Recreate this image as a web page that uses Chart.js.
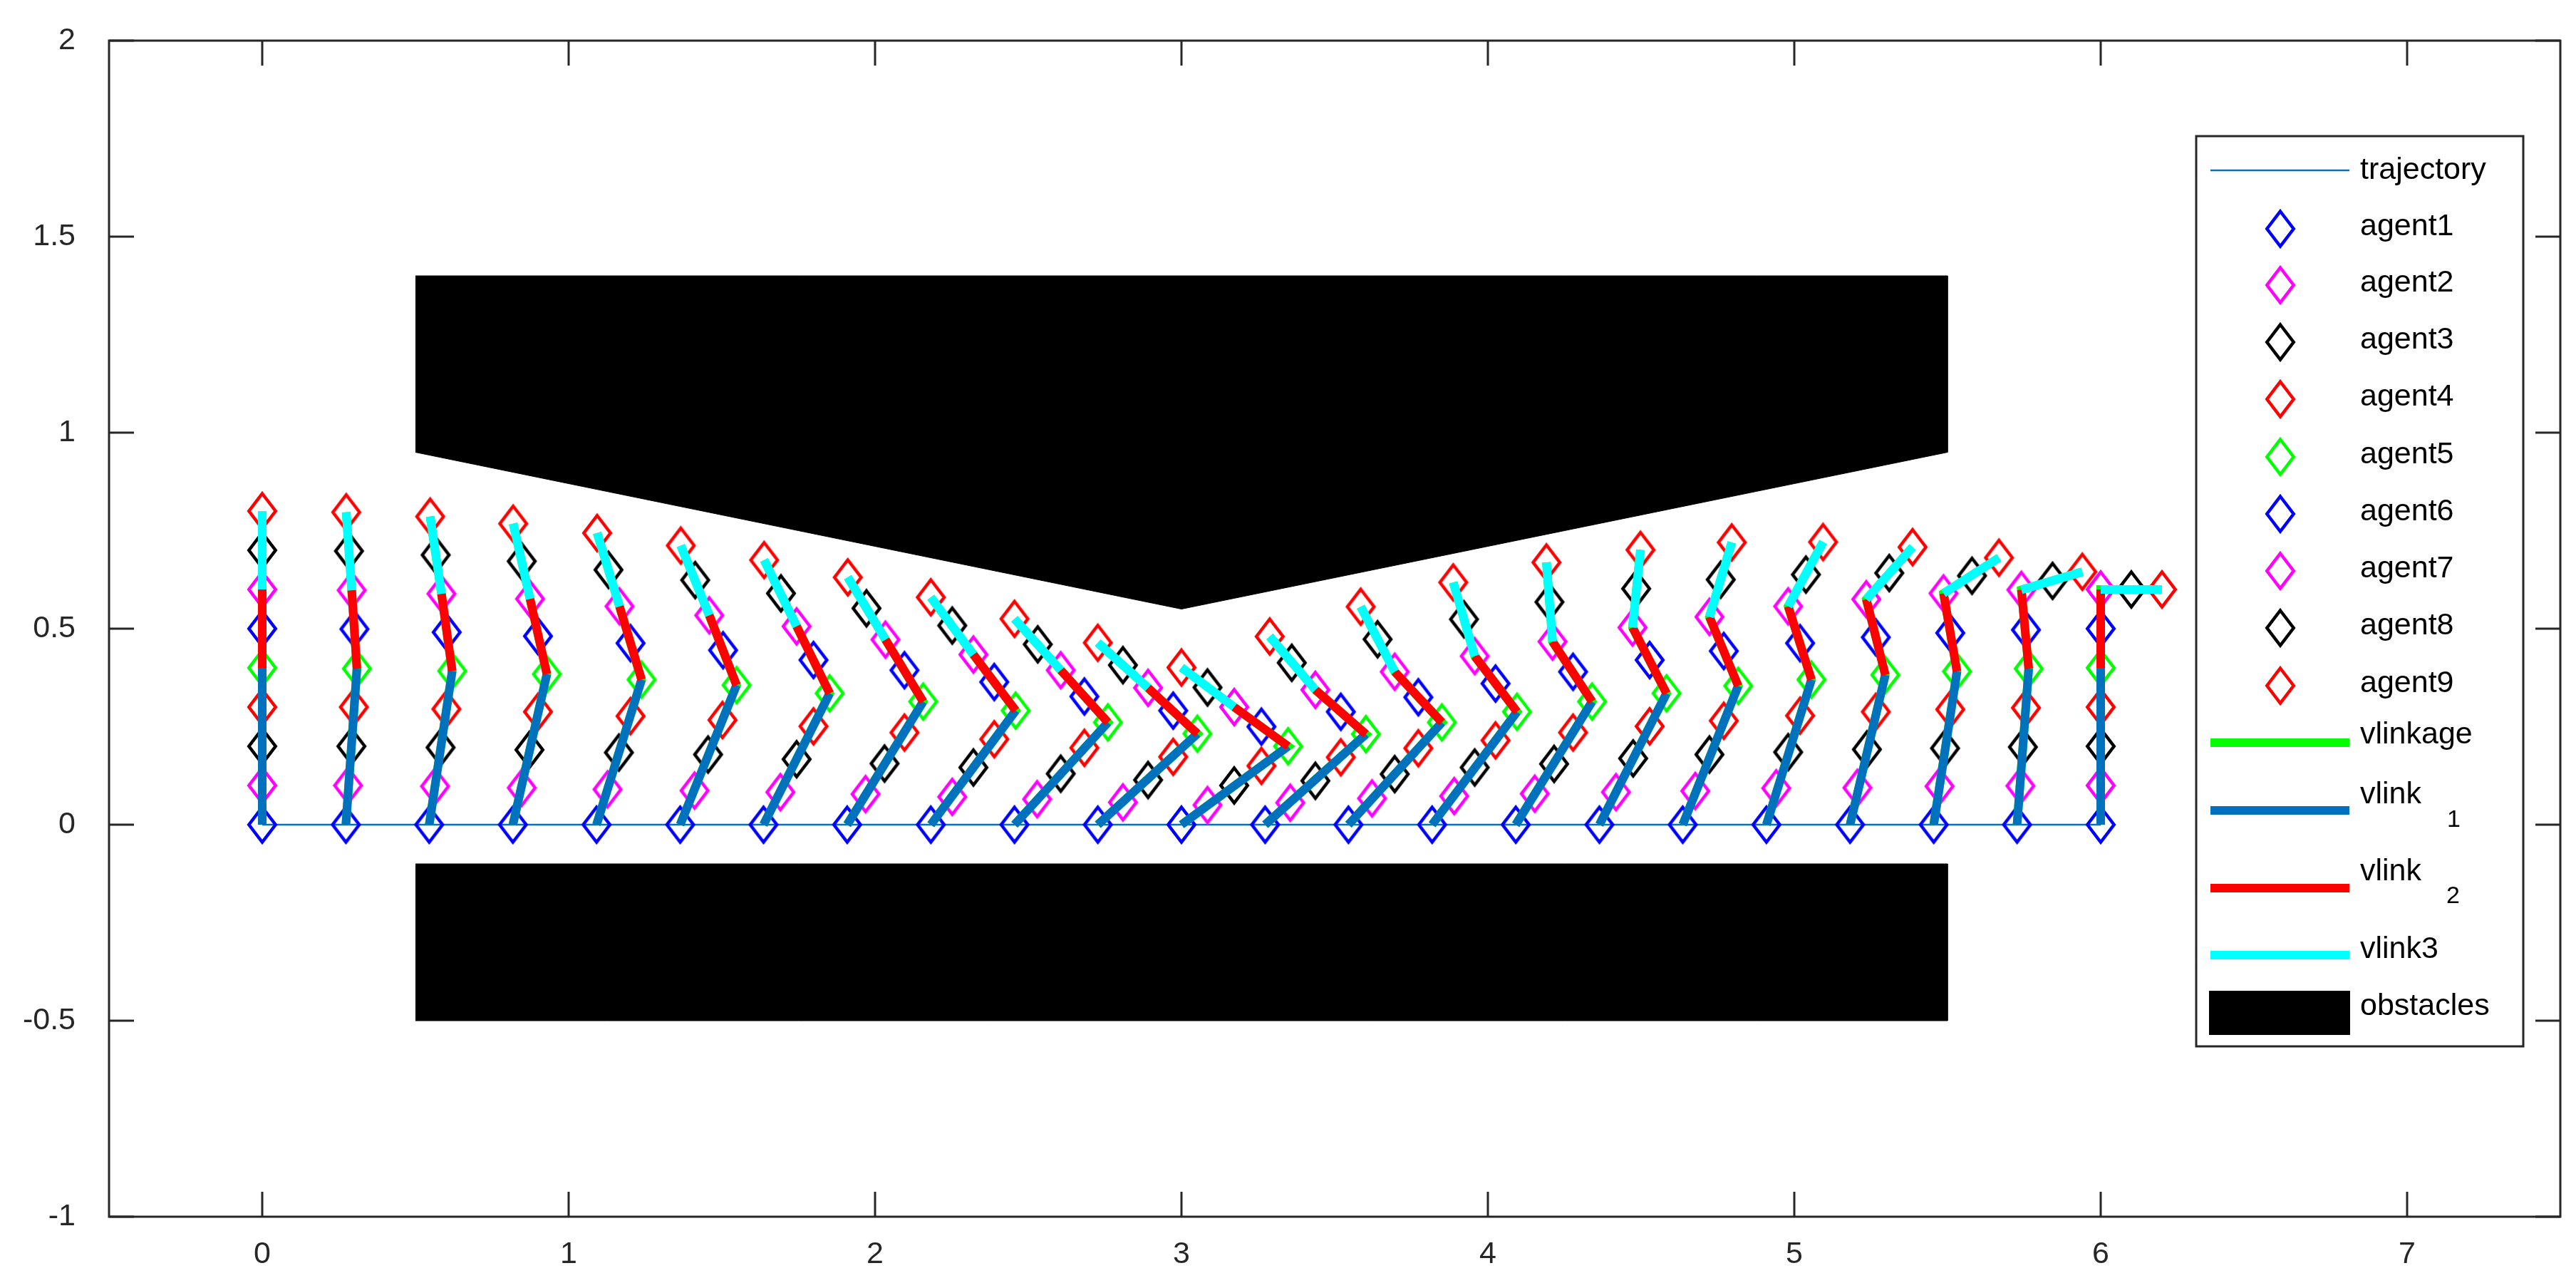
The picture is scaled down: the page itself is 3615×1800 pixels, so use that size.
<!DOCTYPE html>
<html>
<head>
<meta charset="utf-8">
<script src="https://cdn.jsdelivr.net/npm/chart.js@4.4.0/dist/chart.umd.min.js"></script>
<style>
  body { margin: 0; background: #fff; }
  #wrap { width: 3615px; height: 1800px; }
</style>
</head>
<body>
<div id="wrap"><canvas id="plot" width="3615" height="1800"></canvas></div>
<script>
// axis ticks
const xTicks = [0, 1, 2, 3, 4, 5, 6, 7];
const yTicks = [-1, -0.5, 0, 0.5, 1, 1.5, 2];

// agent positions, one value per snapshot (23 snapshots)
const agent1X = [0, 0.273, 0.545, 0.818, 1.091, 1.364, 1.636, 1.909, 2.182, 2.455, 2.727, 3.0, 3.273, 3.545, 3.818, 4.091, 4.364, 4.636, 4.909, 5.182, 5.455, 5.727, 6.0];
const agent1Y = [0, 0, 0, 0, 0, 0, 0, 0, 0, 0, 0, 0, 0, 0, 0, 0, 0, 0, 0, 0, 0, 0, 0];
const agent2X = [0, 0.280, 0.564, 0.847, 1.127, 1.411, 1.691, 1.969, 2.252, 2.529, 2.809, 3.085, 3.355, 3.622, 3.890, 4.153, 4.418, 4.677, 4.941, 5.206, 5.474, 5.738, 6.0];
const agent2Y = [0.1, 0.1, 0.098, 0.094, 0.09, 0.087, 0.083, 0.078, 0.071, 0.065, 0.057, 0.05, 0.056, 0.067, 0.073, 0.079, 0.083, 0.086, 0.093, 0.094, 0.098, 0.099, 0.1];
const agent3X = [0, 0.291, 0.582, 0.872, 1.164, 1.455, 1.744, 2.031, 2.321, 2.606, 2.891, 3.172, 3.437, 3.696, 3.957, 4.216, 4.474, 4.723, 4.980, 5.237, 5.492, 5.746, 6.0];
const agent3Y = [0.2, 0.2, 0.197, 0.191, 0.184, 0.179, 0.167, 0.156, 0.146, 0.13, 0.114, 0.1, 0.112, 0.129, 0.146, 0.155, 0.169, 0.179, 0.185, 0.192, 0.195, 0.198, 0.2];
const agent4X = [0, 0.299, 0.601, 0.900, 1.202, 1.502, 1.799, 2.096, 2.389, 2.683, 2.973, 3.261, 3.520, 3.773, 4.025, 4.278, 4.528, 4.770, 5.019, 5.266, 5.509, 5.756, 6.0];
const agent4Y = [0.3, 0.3, 0.295, 0.288, 0.277, 0.267, 0.251, 0.235, 0.218, 0.196, 0.173, 0.15, 0.172, 0.195, 0.215, 0.235, 0.251, 0.265, 0.278, 0.288, 0.294, 0.298, 0.3];
const agent5X = [0, 0.309, 0.620, 0.929, 1.238, 1.548, 1.852, 2.157, 2.459, 2.760, 3.052, 3.348, 3.602, 3.850, 4.095, 4.340, 4.583, 4.817, 5.056, 5.297, 5.531, 5.765, 6.0];
const agent5Y = [0.4, 0.398, 0.392, 0.384, 0.37, 0.356, 0.335, 0.314, 0.291, 0.261, 0.232, 0.2, 0.231, 0.261, 0.288, 0.314, 0.335, 0.354, 0.370, 0.382, 0.391, 0.398, 0.4];
const agent6X = [0, 0.301, 0.602, 0.900, 1.202, 1.504, 1.799, 2.096, 2.389, 2.683, 2.973, 3.261, 3.520, 3.773, 4.025, 4.278, 4.528, 4.770, 5.019, 5.266, 5.509, 5.756, 6.0];
const agent6Y = [0.5, 0.499, 0.491, 0.481, 0.463, 0.445, 0.42, 0.394, 0.364, 0.327, 0.291, 0.25, 0.288, 0.325, 0.36, 0.39, 0.42, 0.443, 0.463, 0.478, 0.489, 0.497, 0.5];
const agent7X = [0, 0.292, 0.585, 0.874, 1.166, 1.459, 1.744, 2.034, 2.321, 2.606, 2.891, 3.172, 3.437, 3.696, 3.957, 4.211, 4.472, 4.723, 4.980, 5.235, 5.487, 5.741, 6.0];
const agent7Y = [0.6, 0.598, 0.589, 0.576, 0.557, 0.534, 0.506, 0.472, 0.434, 0.394, 0.349, 0.3, 0.344, 0.39, 0.43, 0.467, 0.503, 0.53, 0.557, 0.575, 0.59, 0.599, 0.6];
const agent8X = [0, 0.283, 0.566, 0.847, 1.130, 1.413, 1.693, 1.972, 2.252, 2.531, 2.809, 3.085, 3.360, 3.640, 3.922, 4.201, 4.484, 4.760, 5.038, 5.310, 5.580, 5.843, 6.1];
const agent8Y = [0.7, 0.698, 0.688, 0.672, 0.65, 0.624, 0.59, 0.552, 0.508, 0.46, 0.407, 0.35, 0.413, 0.473, 0.524, 0.568, 0.602, 0.625, 0.638, 0.642, 0.635, 0.622, 0.6];
const agent9X = [0, 0.274, 0.548, 0.819, 1.093, 1.366, 1.638, 1.911, 2.182, 2.455, 2.727, 3.0, 3.288, 3.585, 3.887, 4.191, 4.498, 4.796, 5.094, 5.386, 5.668, 5.940, 6.2];
const agent9Y = [0.8, 0.797, 0.786, 0.768, 0.744, 0.712, 0.675, 0.631, 0.58, 0.525, 0.464, 0.401, 0.48, 0.556, 0.618, 0.669, 0.701, 0.72, 0.721, 0.708, 0.681, 0.645, 0.6];

// obstacles (polygon corners)
const obsUpperX = [0.5, 5.5, 5.5, 3.0, 0.5];
const obsUpperY = [1.4, 1.4, 0.95, 0.55, 0.95];
const obsLowerX = [0.5, 5.5, 5.5, 0.5];
const obsLowerY = [-0.1, -0.1, -0.5, -0.5];

const agentsX = [agent1X, agent2X, agent3X, agent4X, agent5X, agent6X, agent7X, agent8X, agent9X];
const agentsY = [agent1Y, agent2Y, agent3Y, agent4Y, agent5Y, agent6Y, agent7Y, agent8Y, agent9Y];
const agentColors = ['#0000FF', '#FF00FF', '#000000', '#FF0000', '#00FF00', '#0000FF', '#FF00FF', '#000000', '#FF0000'];

const FONT = 'Liberation Sans, Arial, Helvetica, sans-serif';
const AXIS = '#262626';

function pts(xs, ys) {
    return xs.map((x, i) => ({x: x, y: ys[i]}));
}

// chain of agents per snapshot, separated by gaps
function chain(idx) {
    let out = [];
    for (let i = 0; i < agent1X.length; i++) {
        for (let k of idx) out.push({x: agentsX[k][i], y: agentsY[k][i]});
        out.push({x: agentsX[idx[0]][i], y: null});
    }
    return out;
}

function diamond(color) {
    let c = document.createElement('canvas');
    c.width = 48;
    c.height = 62;
    let g = c.getContext('2d');
    g.strokeStyle = color;
    g.lineWidth = 4.5;
    g.lineJoin = 'miter';
    g.beginPath();
    g.moveTo(24, 31 - 24.5);
    g.lineTo(24 + 18.7, 31);
    g.lineTo(24, 31 + 24.5);
    g.lineTo(24 - 18.7, 31);
    g.closePath();
    g.stroke();
    return c;
}
const diamonds = agentColors.map(diamond);

let datasets = [];
datasets.push({
    label: 'obstacles', data: pts(obsUpperX, obsUpperY), fill: 'shape',
    backgroundColor: '#000', borderColor: '#000', borderWidth: 1, pointRadius: 0, order: 30
});
datasets.push({
    label: 'obstacles2', data: pts(obsLowerX, obsLowerY), fill: 'shape',
    backgroundColor: '#000', borderColor: '#000', borderWidth: 1, pointRadius: 0, order: 30
});
datasets.push({
    label: 'trajectory', data: pts(agent1X, agent1Y), borderColor: '#0072BD',
    borderWidth: 2.5, pointRadius: 0, order: 25
});
for (let k = 0; k < 9; k++) {
    datasets.push({
        label: 'agent' + (k + 1), data: pts(agentsX[k], agentsY[k]), showLine: false,
        pointStyle: diamonds[k], pointRadius: 20, borderColor: agentColors[k], order: 10
    });
}
datasets.push({
    label: 'vlinkage', data: chain([0, 4, 6, 8]), borderColor: '#00FF00', borderWidth: 12,
    borderJoinStyle: 'miter', pointRadius: 0, order: 4
});
datasets.push({
    label: 'vlink1', data: chain([0, 4]), borderColor: '#0072BD', borderWidth: 12,
    borderCapStyle: 'butt', pointRadius: 0, order: 3
});
datasets.push({
    label: 'vlink2', data: chain([4, 6]), borderColor: '#FF0000', borderWidth: 12,
    borderCapStyle: 'butt', pointRadius: 0, order: 2
});
datasets.push({
    label: 'vlink3', data: chain([6, 8]), borderColor: '#00FFFF', borderWidth: 12,
    borderCapStyle: 'butt', pointRadius: 0, order: 1
});

// box around the axes with inward ticks on all four sides
const frame = {
    id: 'frame',
    afterDatasetsDraw(chart) {
        const {ctx, chartArea: a, scales} = chart;
        ctx.save();
        ctx.strokeStyle = AXIS;
        ctx.lineWidth = 3;
        ctx.strokeRect(a.left, a.top, a.right - a.left, a.bottom - a.top);
        const len = 35;
        ctx.beginPath();
        for (let v of xTicks) {
            let px = scales.x.getPixelForValue(v);
            ctx.moveTo(px, a.bottom); ctx.lineTo(px, a.bottom - len);
            ctx.moveTo(px, a.top); ctx.lineTo(px, a.top + len);
        }
        for (let v of yTicks) {
            let py = scales.y.getPixelForValue(v);
            ctx.moveTo(a.left, py); ctx.lineTo(a.left + len, py);
            ctx.moveTo(a.right, py); ctx.lineTo(a.right - len, py);
        }
        ctx.stroke();
        ctx.restore();
    }
};

// legend box drawn like the original one
const legendBox = {
    id: 'legendBox',
    afterDraw(chart) {
        const ctx = chart.ctx;
        const bx = 3082, by = 191, bw = 3541 - 3082, bh = 1468 - 191;
        const lx0 = 3102, lx1 = 3297, tx = 3312, mx = 3200;
        ctx.save();
        ctx.fillStyle = '#fff';
        ctx.fillRect(bx, by, bw, bh);
        ctx.strokeStyle = AXIS;
        ctx.lineWidth = 3;
        ctx.strokeRect(bx, by, bw, bh);
        ctx.font = '43px ' + FONT;
        ctx.fillStyle = '#000';
        ctx.textBaseline = 'alphabetic';
        ctx.textAlign = 'left';

        function line(y, color, w) {
            ctx.strokeStyle = color;
            ctx.lineWidth = w;
            ctx.lineCap = 'butt';
            ctx.beginPath();
            ctx.moveTo(lx0, y);
            ctx.lineTo(lx1, y);
            ctx.stroke();
        }

        line(239, '#0072BD', 2.5);
        ctx.fillText('trajectory', tx, 251);

        const rows = [321, 400, 480, 560, 641, 721, 801, 881, 962];
        for (let k = 0; k < 9; k++) {
            const d = diamonds[k];
            ctx.drawImage(d, mx - d.width / 2, rows[k] - d.height / 2);
            ctx.fillText('agent' + (k + 1), tx, rows[k] + 9);
        }

        line(1042, '#00FF00', 12);
        ctx.fillText('vlinkage', tx, 1043);

        line(1137, '#0072BD', 12);
        ctx.fillText('vlink', tx, 1127);
        line(1246, '#FF0000', 12);
        ctx.fillText('vlink', tx, 1235);
        ctx.font = '34px ' + FONT;
        ctx.fillText('1', 3434, 1160);
        ctx.fillText('2', 3433, 1267);
        ctx.font = '43px ' + FONT;

        line(1340, '#00FFFF', 12);
        ctx.fillText('vlink3', tx, 1344);

        ctx.fillStyle = '#000';
        ctx.fillRect(3100, 1390, 198, 62);
        ctx.fillText('obstacles', tx, 1424);
        ctx.restore();
    }
};

const tickFont = {family: FONT, size: 43};

new Chart(document.getElementById('plot'), {
    type: 'line',
    data: {datasets: datasets},
    options: {
        responsive: false,
        animation: false,
        devicePixelRatio: 1,
        layout: {padding: {left: 0, right: 22, top: 57, bottom: 0}},
        plugins: {legend: {display: false}, tooltip: {enabled: false}},
        elements: {line: {tension: 0}},
        scales: {
            x: {
                type: 'linear', min: -0.5, max: 7.5,
                afterBuildTicks: s => { s.ticks = xTicks.map(v => ({value: v})); },
                afterFit: s => { s.height = 93; s.paddingLeft = 0; s.paddingRight = 0; },
                grid: {display: false, drawTicks: false},
                border: {display: false},
                ticks: {font: tickFont, color: AXIS, padding: 27, maxRotation: 0, autoSkip: false,
                        callback: v => String(v)}
            },
            y: {
                type: 'linear', min: -1, max: 2,
                afterBuildTicks: s => { s.ticks = yTicks.map(v => ({value: v})); },
                afterFit: s => { s.width = 153; s.paddingTop = 0; s.paddingBottom = 0; },
                grid: {display: false, drawTicks: false},
                border: {display: false},
                ticks: {font: tickFont, color: AXIS, padding: 47, autoSkip: false,
                        callback: v => String(v)}
            }
        }
    },
    plugins: [frame, legendBox]
});
</script>
</body>
</html>
